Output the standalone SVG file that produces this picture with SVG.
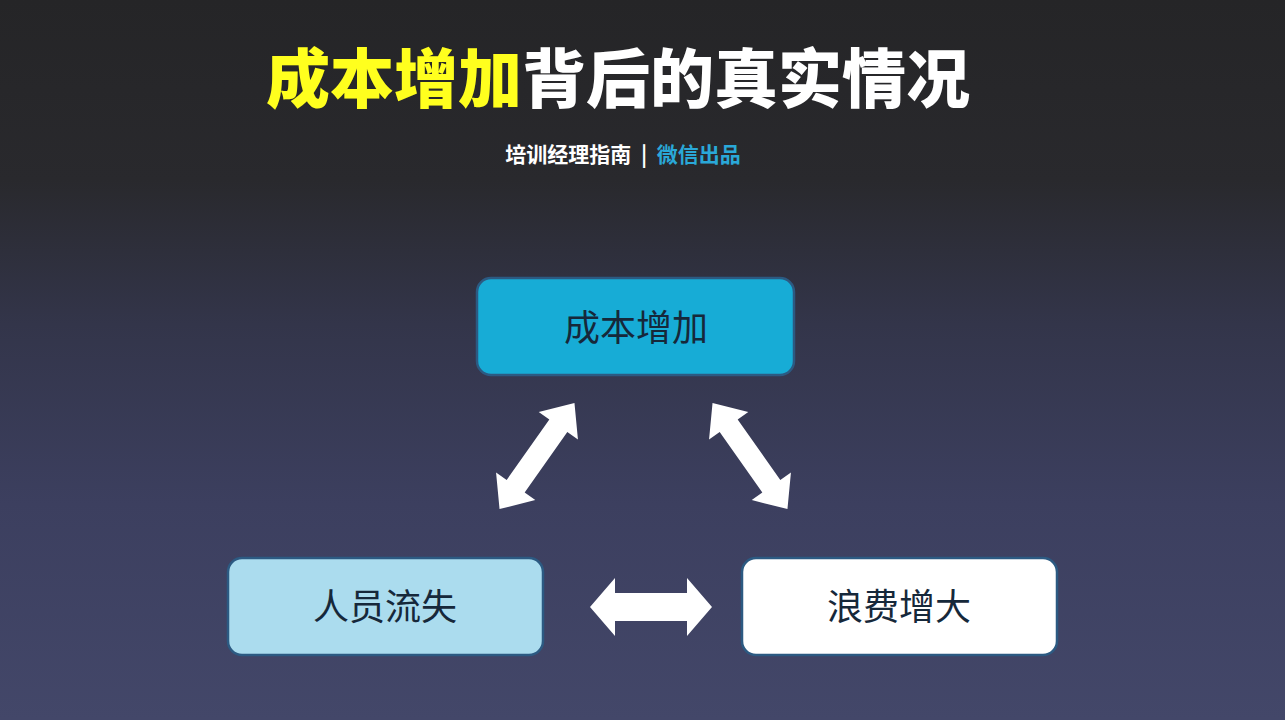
<svg xmlns="http://www.w3.org/2000/svg" width="1285" height="720" viewBox="0 0 1285 720">
<defs>
<linearGradient id="bg" x1="0" y1="0" x2="0" y2="1">
<stop offset="0" stop-color="#252527"/>
<stop offset="0.25" stop-color="#29292d"/>
<stop offset="0.45" stop-color="#33354a"/>
<stop offset="0.7" stop-color="#3c3f5f"/>
<stop offset="1" stop-color="#434769"/>
</linearGradient>
<style>
.t{font-family:"Noto Sans CJK SC","Noto Sans",sans-serif}
.title{font-size:64px;font-weight:900}
.sub{font-size:21px;font-weight:700}
.lbl{font-size:36px;font-weight:400;fill:#16283a;text-anchor:middle}
.box{stroke:#2c5a82;stroke-width:2.5}
.arr{fill:#ffffff}
</style>
</defs>
<rect width="1285" height="720" fill="url(#bg)"/>
<g id="title">
<text class="t title" x="618" y="102" text-anchor="middle"><tspan fill="#ffff1e">成本增加</tspan><tspan fill="#ffffff">背后的真实情况</tspan></text>
</g>
<g id="subtitle">
<text class="t sub" x="623" y="162" text-anchor="middle"><tspan fill="#ffffff">培训经理指南</tspan><tspan fill="#ffffff" xml:space="preserve">  |  </tspan><tspan fill="#2aa8d8">微信出品</tspan></text>
</g>
<g id="node-cost">
<rect class="box" x="477" y="278" width="317" height="97" rx="14" fill="#17acd6"/>
<text class="t lbl" x="636" y="341">成本增加</text>
</g>
<g id="node-loss">
<rect class="box" x="228" y="558" width="315" height="97" rx="14" fill="#abdcee"/>
<text class="t lbl" x="385" y="620">人员流失</text>
</g>
<g id="node-waste">
<rect class="box" x="742" y="558" width="315" height="97" rx="14" fill="#ffffff"/>
<text class="t lbl" x="899" y="620">浪费增大</text>
</g>
<g id="connectors">
<polygon class="arr" transform="translate(537,456) rotate(-54.8)" points="-65,0 -37,-24 -37,-11 37,-11 37,-24 65,0 37,24 37,11 -37,11 -37,24"/>
<polygon class="arr" transform="translate(750,456) rotate(54.8)" points="-65,0 -37,-24 -37,-11 37,-11 37,-24 65,0 37,24 37,11 -37,11 -37,24"/>
<polygon class="arr" transform="translate(651,607)" points="-61,0 -36,-29 -36,-14 36,-14 36,-29 61,0 36,29 36,14 -36,14 -36,29"/>
</g>
</svg>
